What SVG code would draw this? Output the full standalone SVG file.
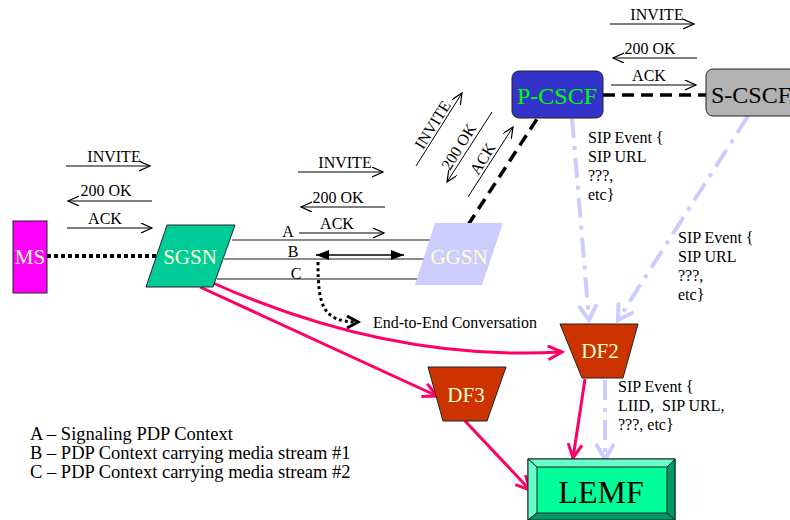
<svg xmlns="http://www.w3.org/2000/svg" width="790" height="520" viewBox="0 0 790 520" font-family="'Liberation Serif', 'Times New Roman', serif">
<style>
.lbl{font-size:16px}
.leg{font-size:18.5px}
.msg{stroke:#000;stroke-width:1;fill:none;marker-end:url(#open)}
.ctx{stroke:#666;stroke-width:1.6;fill:none}
.red{stroke:#FF0066;stroke-width:3;fill:none;marker-end:url(#redA)}
.lav{stroke:#CCCCFF;stroke-width:4;fill:none;stroke-dasharray:20 8 4 8;marker-end:url(#lavA)}
.node{stroke:#222;stroke-width:1}
.wt{fill:#FFFFCC;font-size:21px}
</style>
<defs>
<marker id="open" markerUnits="userSpaceOnUse" markerWidth="14" markerHeight="12" refX="11" refY="5" orient="auto"><path d="M0,0 L11,5 L0,10" fill="none" stroke="#000" stroke-width="1.2"/></marker>
<marker id="fill" markerUnits="userSpaceOnUse" markerWidth="16" markerHeight="12" refX="13" refY="5" orient="auto-start-reverse"><path d="M0,0 L13,5 L0,10 Z" fill="#000"/></marker>
<marker id="blk" markerUnits="userSpaceOnUse" markerWidth="18" markerHeight="18" refX="12" refY="7" orient="auto"><path d="M1,1 L12,7 L1,13" fill="none" stroke="#000" stroke-width="3"/></marker>
<marker id="redA" markerUnits="userSpaceOnUse" markerWidth="20" markerHeight="18" refX="15" refY="8" orient="auto"><path d="M1,1 L15,8 L1,15" fill="none" stroke="#FF0066" stroke-width="3"/></marker>
<marker id="lavA" markerUnits="userSpaceOnUse" markerWidth="22" markerHeight="22" refX="16" refY="10" orient="auto"><path d="M1,1 L16,10 L1,19" fill="none" stroke="#CCCCFF" stroke-width="4"/></marker>
</defs>
<rect width="790" height="520" fill="#fff"/>

<g id="connectors">
<line x1="47" y1="256" x2="160" y2="256" stroke="#000" stroke-width="4" stroke-dasharray="4 3"/>
<line x1="232" y1="240" x2="432" y2="240" class="ctx"/>
<line x1="224" y1="259" x2="427" y2="259" class="ctx"/>
<line x1="217" y1="279" x2="418" y2="279" class="ctx"/>
<line x1="316" y1="255" x2="404" y2="255" stroke="#000" stroke-width="1.3" marker-start="url(#fill)" marker-end="url(#fill)"/>
<path d="M318,262 C318,305 322,322 358,322" fill="none" stroke="#000" stroke-width="3" stroke-dasharray="3 3" marker-end="url(#blk)"/>
<line x1="468" y1="225" x2="537" y2="119" stroke="#000" stroke-width="3.5" stroke-dasharray="12 7"/>
<line x1="603" y1="95" x2="706" y2="95" stroke="#000" stroke-width="3.5" stroke-dasharray="12 7"/>
<path d="M572,118 L589,320" class="lav"/>
<path d="M748,116 L618,320" class="lav"/>
<path d="M605,380 L605,459" class="lav"/>
<path d="M213,283 Q390,362 562,352" class="red"/>
<path d="M200,287 L437,396" class="red"/>
<path d="M585,379 L573,458" class="red"/>
<path d="M465,421 L530,490" class="red"/>
<line x1="66" y1="166" x2="150" y2="166" class="msg"/>
<line x1="152" y1="201" x2="68" y2="201" class="msg"/>
<line x1="67" y1="228" x2="152" y2="228" class="msg"/>
<line x1="298" y1="172" x2="383" y2="172" class="msg"/>
<line x1="385" y1="207" x2="301" y2="207" class="msg"/>
<line x1="299" y1="233" x2="384" y2="233" class="msg"/>
<line x1="610" y1="24" x2="694" y2="24" class="msg"/>
<line x1="697" y1="58" x2="613" y2="58" class="msg"/>
<line x1="611" y1="85" x2="696" y2="85" class="msg"/>
<line x1="416" y1="166" x2="462" y2="93" class="msg"/>
<line x1="492" y1="112" x2="447" y2="182" class="msg"/>
<line x1="468" y1="197" x2="513" y2="127" class="msg"/>
</g>

<g id="labels">
<text x="114" y="162" text-anchor="middle" class="lbl">INVITE</text>
<text x="106" y="196" text-anchor="middle" class="lbl">200 OK</text>
<text x="105" y="224" text-anchor="middle" class="lbl">ACK</text>
<text x="345" y="168" text-anchor="middle" class="lbl">INVITE</text>
<text x="338" y="203" text-anchor="middle" class="lbl">200 OK</text>
<text x="337" y="229" text-anchor="middle" class="lbl">ACK</text>
<text x="657" y="20" text-anchor="middle" class="lbl">INVITE</text>
<text x="650" y="54" text-anchor="middle" class="lbl">200 OK</text>
<text x="649" y="81" text-anchor="middle" class="lbl">ACK</text>
<text transform="translate(433,125) rotate(-58)" y="5" text-anchor="middle" class="lbl">INVITE</text>
<text transform="translate(459,147) rotate(-58)" y="5" text-anchor="middle" class="lbl">200 OK</text>
<text transform="translate(483,159) rotate(-58)" y="5" text-anchor="middle" class="lbl">ACK</text>
<text x="288" y="237" text-anchor="middle" class="lbl">A</text>
<text x="293" y="257" text-anchor="middle" class="lbl">B</text>
<text x="296" y="279" text-anchor="middle" class="lbl">C</text>
<text x="373" y="328" class="lbl">End-to-End Conversation</text>
<text x="588" y="143" class="lbl">SIP Event {</text>
<text x="588" y="162" class="lbl">SIP URL</text>
<text x="588" y="181" class="lbl">???,</text>
<text x="588" y="200" class="lbl">etc}</text>
<text x="678" y="243" class="lbl">SIP Event {</text>
<text x="678" y="262" class="lbl">SIP URL</text>
<text x="678" y="281" class="lbl">???,</text>
<text x="678" y="300" class="lbl">etc}</text>
<text x="618" y="392" class="lbl">SIP Event {</text>
<text x="618" y="411" class="lbl" xml:space="preserve">LIID,  SIP URL,</text>
<text x="618" y="430" class="lbl">???, etc}</text>
<text x="30" y="440" class="leg">A – Signaling PDP Context</text>
<text x="30" y="459" class="leg">B – PDP Context carrying media stream #1</text>
<text x="30" y="478" class="leg">C – PDP Context carrying media stream #2</text>
</g>

<g id="MS">
<rect x="13" y="221" width="34" height="72" fill="#FF00FF" class="node"/>
<text x="30" y="264" text-anchor="middle" class="wt" font-size="20">MS</text>
</g>
<g id="SGSN">
<polygon points="167,225 235,225 213,287 146,287" fill="#00CC99" class="node"/>
<text x="190" y="264" text-anchor="middle" class="wt">SGSN</text>
</g>
<g id="GGSN">
<polygon points="435,223 503,223 482,285 415,285" fill="#CCCCFF"/>
<text x="459" y="264" text-anchor="middle" class="wt">GGSN</text>
</g>
<g id="P-CSCF">
<rect x="512" y="71" width="91" height="47" rx="7" fill="#3333CC" class="node"/>
<text x="557" y="104" text-anchor="middle" font-size="24" fill="#00FF00">P-CSCF</text>
</g>
<g id="S-CSCF">
<rect x="706" y="69" width="100" height="47" rx="7" fill="#B2B2B2" class="node"/>
<text x="711" y="103" font-size="24">S-CSCF</text>
</g>
<g id="DF2">
<polygon points="560,324 638,324 623,378 582,378" fill="#CC3300" class="node"/>
<text x="600" y="358" text-anchor="middle" class="wt">DF2</text>
</g>
<g id="DF3">
<polygon points="428,367 506,367 487,421 443,421" fill="#CC3300" class="node"/>
<text x="466" y="402" text-anchor="middle" class="wt">DF3</text>
</g>
<g id="LEMF">
<rect x="528" y="459" width="147" height="61" fill="#00FF99" class="node"/>
<polygon points="528,459 675,459 667,467 537,467" fill="#66FFCC" class="node"/>
<polygon points="528,459 537,467 537,513 528,520" fill="#66FFCC" class="node"/>
<polygon points="675,459 675,520 667,513 667,467" fill="#009966" class="node"/>
<polygon points="528,520 537,513 667,513 675,520" fill="#009966" class="node"/>
<text x="601" y="503" text-anchor="middle" font-size="32">LEMF</text>
</g>
</svg>
